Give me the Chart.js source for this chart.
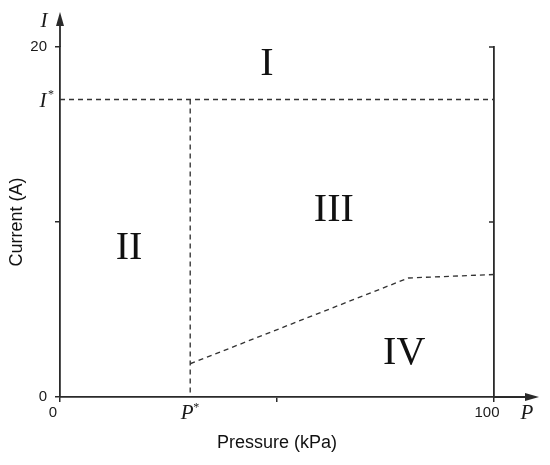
<!DOCTYPE html>
<html lang="en">
<head>
<meta charset="UTF-8" />
<title>Current vs Pressure operating regions</title>
<script src="https://cdn.jsdelivr.net/npm/chart.js"></script>
<style>
  body { margin: 0; background: #ffffff; }
  .chart-container { width: 550px; height: 465px; }
</style>
</head>
<body>
<div class="chart-container"><canvas id="regionChart" width="550" height="465"></canvas></div>
<script>
// critical values
const pStar = 30;
const iStar = 17;
// lower boundary of region III
const boundaryP = [30, 80.3, 100];
const boundaryI = [1.9, 6.8, 7.0];
// region names and where they sit (data units)
const regionNames = ['I', 'II', 'III', 'IV'];
const regionP = [47.7, 15.9, 63.1, 79.3];
const regionI = [19.1, 8.6, 10.8, 2.6];
// numeric tick labels
const xTickValues = [0, 100];
const yTickValues = [0, 20];

const AXIS = '#2a2a2a';
const DASH = '#333333';
const SANS = "'Liberation Sans', Arial, sans-serif";
const SERIF = "'Liberation Serif', 'Times New Roman', serif";

function dashed(points) {
  return {
    data: points,
    showLine: true,
    borderColor: DASH,
    borderWidth: 1.35,
    borderDash: [5, 4],
    pointRadius: 0,
    fill: false,
  };
}

const datasets = [
  dashed([{ x: 0, y: iStar }, { x: 100, y: iStar }]),
  dashed([{ x: pStar, y: iStar }, { x: pStar, y: 0 }]),
  dashed(boundaryP.map((p, i) => ({ x: p, y: boundaryI[i] }))),
];

// draws arrows, tick text, the starred labels and region names
const decorations = {
  id: 'decorations',
  afterDraw(chart) {
    const { ctx, chartArea: a, scales: { x, y } } = chart;
    ctx.save();
    ctx.strokeStyle = AXIS;
    ctx.fillStyle = AXIS;
    ctx.lineWidth = 1.8;

    // y axis extension + arrow
    ctx.beginPath();
    ctx.moveTo(a.left, a.top);
    ctx.lineTo(a.left, 22);
    ctx.stroke();
    ctx.beginPath();
    ctx.moveTo(a.left, 12);
    ctx.lineTo(a.left - 4, 26);
    ctx.lineTo(a.left + 4, 26);
    ctx.closePath();
    ctx.fill();

    // x axis extension + arrow
    ctx.beginPath();
    ctx.moveTo(a.right, a.bottom);
    ctx.lineTo(530, a.bottom);
    ctx.stroke();
    ctx.beginPath();
    ctx.moveTo(539, a.bottom);
    ctx.lineTo(525, a.bottom - 4);
    ctx.lineTo(525, a.bottom + 4);
    ctx.closePath();
    ctx.fill();

    // inward ticks on the right axis
    ctx.lineWidth = 1.5;
    [10, 20].forEach((v) => {
      const py = y.getPixelForValue(v);
      ctx.beginPath();
      ctx.moveTo(a.right, py);
      ctx.lineTo(a.right - 5, py);
      ctx.stroke();
    });

    // numeric tick labels
    ctx.fillStyle = '#1a1a1a';
    ctx.font = '15px ' + SANS;
    ctx.textAlign = 'center';
    ctx.textBaseline = 'middle';
    xTickValues.forEach((v) => {
      ctx.fillText(String(v), x.getPixelForValue(v) - 7, a.bottom + 16);
    });
    ctx.textAlign = 'right';
    yTickValues.forEach((v) => {
      ctx.fillText(String(v), a.left - 13, y.getPixelForValue(v));
    });

    // italic axis letters
    ctx.font = 'italic 21px ' + SERIF;
    ctx.textAlign = 'center';
    ctx.fillText('I', a.left - 16, 21);
    ctx.fillText('P', 527, a.bottom + 16);

    // starred labels
    const ix = a.left - 17, iy = y.getPixelForValue(iStar);
    ctx.fillText('I', ix, iy + 2);
    const px = x.getPixelForValue(pStar) - 3, py = a.bottom + 16;
    ctx.fillText('P', px, py);
    ctx.font = '12px ' + SERIF;
    ctx.fillText('*', ix + 8, iy - 5);
    ctx.fillText('*', px + 9, py - 5);

    // region names
    ctx.font = '40px ' + SERIF;
    ctx.fillStyle = '#111111';
    regionNames.forEach((name, i) => {
      ctx.fillText(name, x.getPixelForValue(regionP[i]), y.getPixelForValue(regionI[i]) + 2);
    });
    ctx.restore();
  },
};

new Chart(document.getElementById('regionChart'), {
  type: 'scatter',
  data: { datasets },
  options: {
    responsive: false,
    animation: false,
    layout: { padding: { top: 47, right: 56, bottom: 0, left: 0 } },
    plugins: { legend: { display: false }, tooltip: { enabled: false } },
    scales: {
      x: {
        type: 'linear',
        min: 0,
        max: 100,
        ticks: { display: false, stepSize: 50 },
        grid: { drawOnChartArea: false, tickLength: 5, color: AXIS, lineWidth: 1.5 },
        border: { color: AXIS, width: 1.8 },
        title: {
          display: true,
          text: 'Pressure (kPa)',
          color: '#111111',
          font: { family: SANS, size: 18 },
          padding: { top: 0, bottom: 11 },
        },
        afterFit(scale) { scale.height = 68; },
      },
      y: {
        type: 'linear',
        position: 'left',
        min: 0,
        max: 20,
        ticks: { display: false, stepSize: 10 },
        grid: { drawOnChartArea: false, tickLength: 5, color: AXIS, lineWidth: 1.5 },
        border: { color: AXIS, width: 1.8 },
        title: {
          display: true,
          text: 'Current (A)',
          color: '#111111',
          font: { family: SANS, size: 18 },
          padding: { top: 6, bottom: 0 },
        },
        afterFit(scale) { scale.width = 60; },
      },
      y2: {
        type: 'linear',
        position: 'right',
        min: 0,
        max: 20,
        ticks: { display: false, stepSize: 10 },
        grid: { drawOnChartArea: false, drawTicks: false },
        border: { color: AXIS, width: 1.8 },
        afterFit(scale) { scale.width = 0; },
      },
    },
  },
  plugins: [decorations],
});
</script>
</body>
</html>
